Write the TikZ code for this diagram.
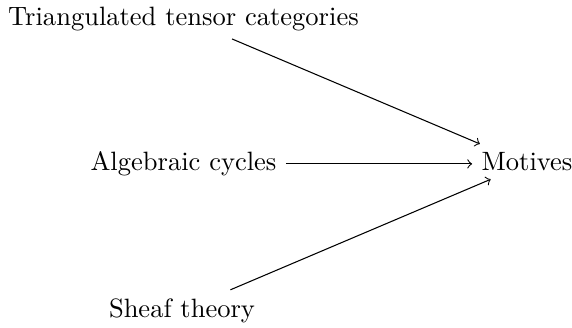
\documentclass[tikz,border=0pt]{standalone}
\usetikzlibrary{arrows,cd}
\begin{document}
\begin{tikzpicture}[x=0.377pt,y=-0.377pt,
  lbl/.style={shape=asymmetrical rectangle,inner xsep=3.4pt,inner ysep=3pt,anchor=base},
  arr/.style={->,>=to,line width=0.4pt}]
\useasboundingbox (0,0) rectangle (572,327);
\node[lbl] (tri) at (183.5,25) {Triangulated tensor categories};
\node[lbl] (alg) at (183.5,170.5) {Algebraic cycles};
\node[lbl] (sh) at (182,317) {Sheaf theory};
\node[lbl] (mot) at (527,170.5) {Motives};
\draw[arr] (tri) -- (mot);
\draw[arr] (alg) -- (mot);
\draw[arr] (sh) -- (mot);
\end{tikzpicture}
\end{document}
